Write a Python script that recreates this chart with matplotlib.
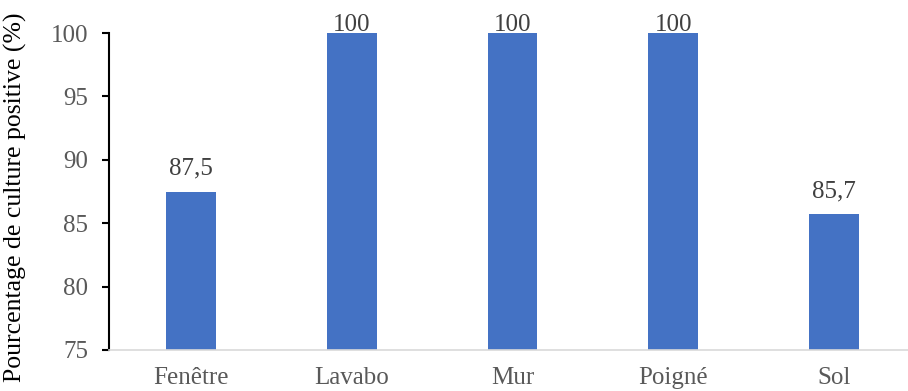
import matplotlib
matplotlib.use("Agg")
import matplotlib.pyplot as plt

categories = ["Fenêtre", "Lavabo", "Mur", "Poigné", "Sol"]
values = [87.5, 100, 100, 100, 85.7]
value_labels = ["87,5", "100", "100", "100", "85,7"]
yticks = [75, 80, 85, 90, 95, 100]

plt.rcParams['font.family'] = ['Liberation Serif', 'DejaVu Serif']

fig = plt.figure(figsize=(9.08, 3.91), dpi=100)
ax = fig.add_axes([109 / 908, 41 / 391, 799 / 908, 317 / 391])

x = list(range(len(categories)))
ax.bar(x, values, width=0.31, color="#4472C4", zorder=2)

# labels on the full bars sit tight on the top of the plot area
for xi, v, lab in zip(x, values, value_labels):
    off = 1.5 if v >= 100 else 12
    ax.annotate(lab, (xi, v), xytext=(0, off), textcoords="offset points",
                ha="center", va="baseline", fontsize=18, color="#404040",
                annotation_clip=False)

ax.set_xlim(-0.51, 4.46)
ax.set_ylim(75, 100)
ax.set_yticks(yticks)
ax.set_xticks(x)
ax.set_xticklabels(categories)

ax.spines["top"].set_visible(False)
ax.spines["right"].set_visible(False)
ax.spines["left"].set_color("black")
ax.spines["left"].set_linewidth(1.5)
ax.spines["bottom"].set_color("#D9D9D9")
ax.spines["bottom"].set_linewidth(1.2)

ax.tick_params(axis="y", direction="out", length=5, width=1.5, color="black",
               labelsize=18, labelcolor="#595959", pad=10)
ax.tick_params(axis="x", length=0, labelsize=18, labelcolor="#595959", pad=12)

ax.set_ylabel("Pourcentage de culture positive (%)", fontsize=18.5, color="black")
ax.yaxis.set_label_coords(-0.103, 0.482)

fig.savefig("out.png", dpi=100)
